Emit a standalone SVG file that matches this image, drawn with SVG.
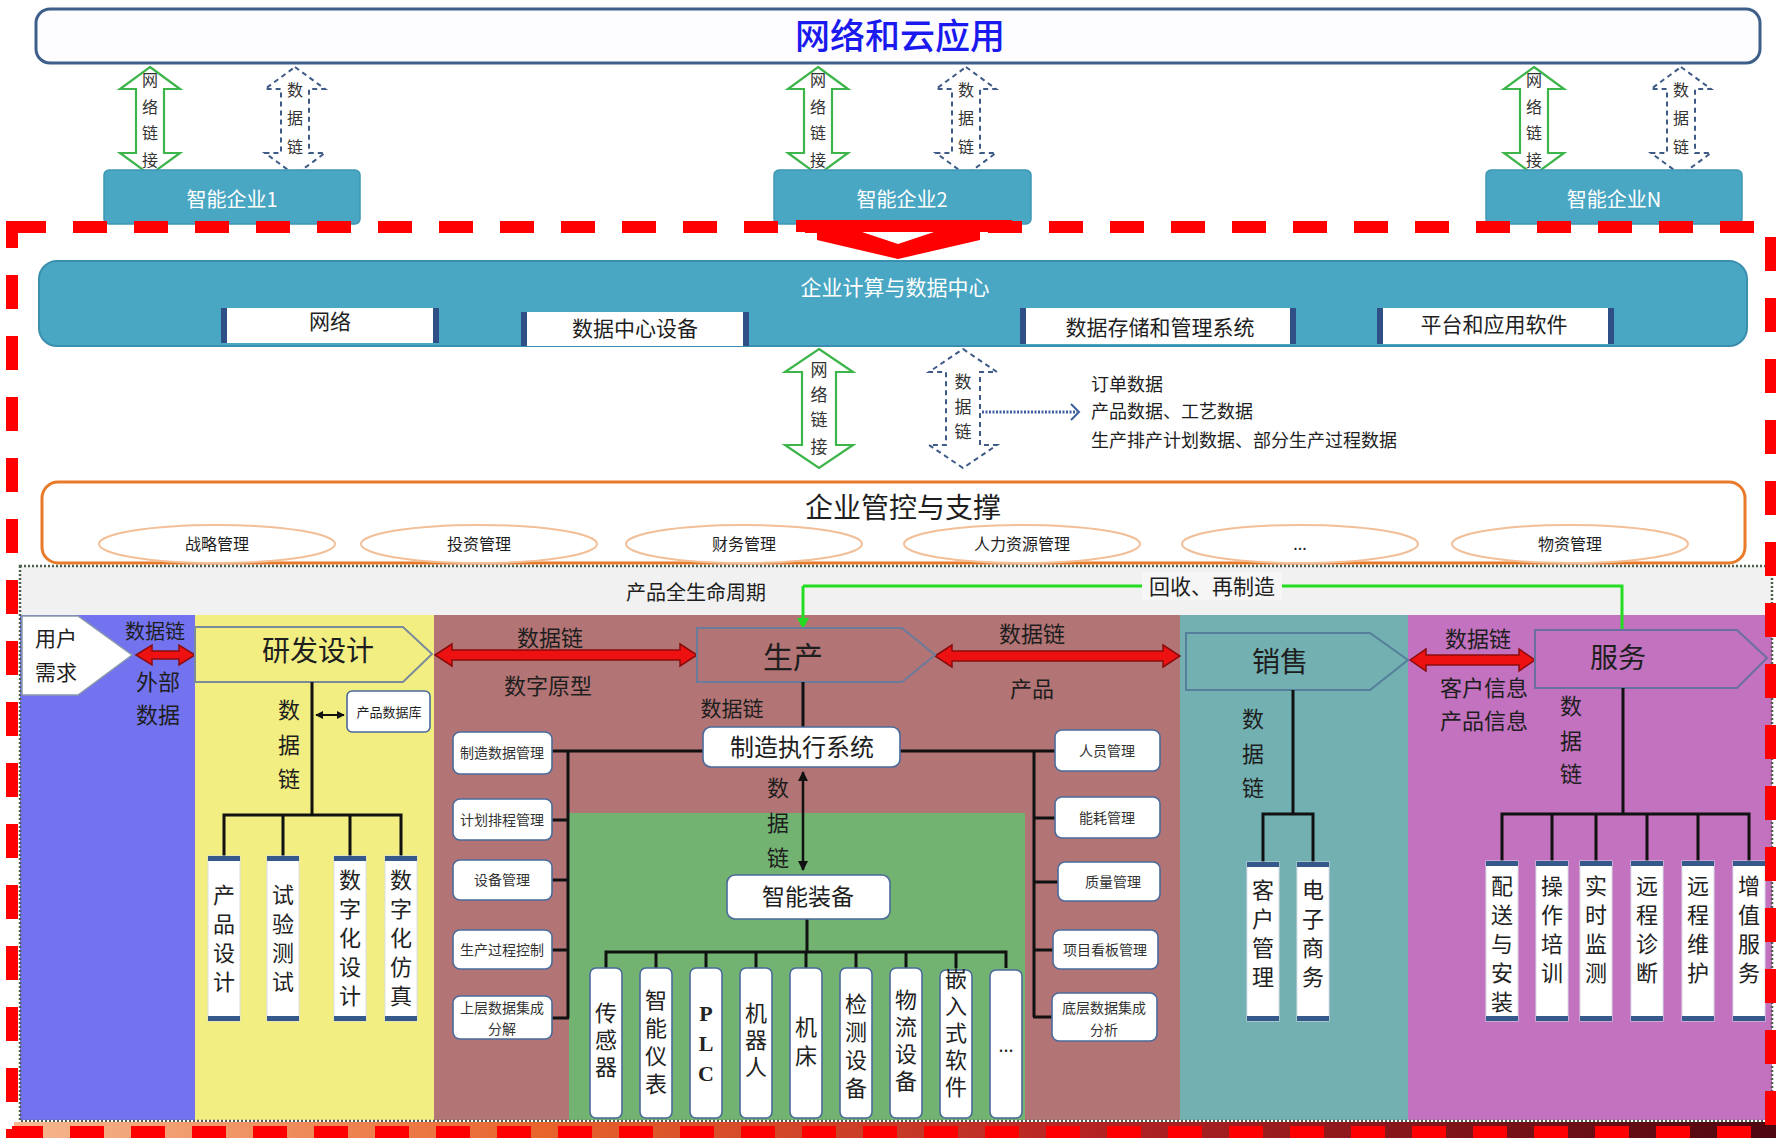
<svg xmlns="http://www.w3.org/2000/svg" width="1776" height="1138" viewBox="0 0 1776 1138">
<defs>
<style>
text{font-family:"Noto Sans CJK SC","Noto Sans",sans-serif;fill:#1e1e1e;text-anchor:middle}
.wt{fill:#fff}
.ent{fill:#4aa7c3;stroke:#3e97b5;stroke-width:1.5}
.garrow{fill:#fff;stroke:#3db54a;stroke-width:2.2}
.darrow{fill:#fff;stroke:#3e5a86;stroke-width:2;stroke-dasharray:5 4}
.vt{font-size:16px;fill:#333}
.sub{fill:#fff}
.side{fill:#2f4f86}
.ell{fill:#fff;stroke:#f2bf98;stroke-width:2}
.ln{stroke:#111;stroke-width:3;fill:none}
.box{fill:#fff;stroke:#4b6a9c;stroke-width:1.6}
.scroll{fill:#fff;stroke:#d8dde6;stroke-width:1}
.bar{fill:#36598c}
.red{fill:#ee1111;stroke:#8a0c0c;stroke-width:1.5}
.lbl{font-size:22px}
.v{writing-mode:vertical-rl;text-orientation:upright;font-size:22px;fill:#222;letter-spacing:7px}
.v5{letter-spacing:5px}
.v6{letter-spacing:6px}
.sm{font-size:14px;fill:#333}
.chev{stroke-width:2}
</style>
<path id="arTop" d="M0,0 L30,22 L14,22 L14,86 L30,86 L0,108 L-30,86 L-14,86 L-14,22 L-30,22 Z"/>
<path id="arMid" d="M0,0 L34,23 L17,23 L17,96 L34,96 L0,119 L-34,96 L-17,96 L-17,23 L-34,23 Z"/>
<marker id="ah" viewBox="0 0 10 10" refX="9" refY="5" markerWidth="4" markerHeight="4" orient="auto-start-reverse"><path d="M0,0 L10,5 L0,10 z" fill="#111"/></marker>
<linearGradient id="strip" x1="0" x2="1" y1="0" y2="0">
<stop offset="0" stop-color="#f6b890"/><stop offset="0.3" stop-color="#e8642c"/><stop offset="0.6" stop-color="#b82424"/><stop offset="1" stop-color="#4e0610"/>
</linearGradient>
</defs>

<!-- Cloud -->
<g id="cloud">
<rect x="36" y="9" width="1724" height="54" rx="14" fill="#fdfdff" stroke="#3d5f8a" stroke-width="3"/>
<text x="900" y="49" style="font-size:35px;fill:#1a1aee;font-weight:500">网络和云应用</text>
</g>

<!-- Connectors -->
<g id="connectors">
<use href="#arTop" class="garrow" transform="translate(150,67)"/>
<use href="#arTop" class="darrow" transform="translate(295,67)"/>
<use href="#arTop" class="garrow" transform="translate(818,67)"/>
<use href="#arTop" class="darrow" transform="translate(966,67)"/>
<use href="#arTop" class="garrow" transform="translate(1534,67)"/>
<use href="#arTop" class="darrow" transform="translate(1681,67)"/>
<text class="vt"><tspan x="150" y="86">网</tspan><tspan x="150" y="113">络</tspan><tspan x="150" y="139">链</tspan><tspan x="150" y="166">接</tspan></text>
<text class="vt"><tspan x="295" y="96">数</tspan><tspan x="295" y="124">据</tspan><tspan x="295" y="153">链</tspan></text>
<text class="vt"><tspan x="818" y="86">网</tspan><tspan x="818" y="113">络</tspan><tspan x="818" y="139">链</tspan><tspan x="818" y="166">接</tspan></text>
<text class="vt"><tspan x="966" y="96">数</tspan><tspan x="966" y="124">据</tspan><tspan x="966" y="153">链</tspan></text>
<text class="vt"><tspan x="1534" y="86">网</tspan><tspan x="1534" y="113">络</tspan><tspan x="1534" y="139">链</tspan><tspan x="1534" y="166">接</tspan></text>
<text class="vt"><tspan x="1681" y="96">数</tspan><tspan x="1681" y="124">据</tspan><tspan x="1681" y="153">链</tspan></text>
<use href="#arMid" class="garrow" transform="translate(819,349)"/>
<use href="#arMid" class="darrow" transform="translate(963,349)"/>
<text class="vt" style="font-size:17px"><tspan x="819" y="376">网</tspan><tspan x="819" y="401">络</tspan><tspan x="819" y="426">链</tspan><tspan x="819" y="453">接</tspan></text>
<text class="vt" style="font-size:17px"><tspan x="963" y="388">数</tspan><tspan x="963" y="413">据</tspan><tspan x="963" y="438">链</tspan></text>
<line x1="982" y1="412" x2="1077" y2="412" stroke="#3d5fa0" stroke-width="3" stroke-dasharray="2 1.5"/>
<polyline points="1071,404 1079,412 1071,420" fill="none" stroke="#3d5fa0" stroke-width="2"/>
</g>

<!-- Enterprises -->
<g id="ent1"><rect class="ent" x="104" y="170" width="256" height="54" rx="5"/><text x="232" y="207" class="wt" style="font-size:20px">智能企业1</text></g>
<g id="ent2"><rect class="ent" x="774" y="170" width="257" height="54" rx="5"/><text x="902" y="207" class="wt" style="font-size:20px">智能企业2</text></g>
<g id="entN"><rect class="ent" x="1486" y="170" width="256" height="54" rx="5"/><text x="1614" y="207" class="wt" style="font-size:20px">智能企业N</text></g>

<!-- Compute & data center -->
<g id="datacenter">
<rect x="39" y="261" width="1708" height="85" rx="18" fill="#4aa7c3" stroke="#3b8fae" stroke-width="2"/>
<text x="895" y="295" class="wt" style="font-size:21px">企业计算与数据中心</text>
<rect class="sub" x="221" y="308" width="218" height="35"/><rect class="side" x="221" y="308" width="6" height="35"/><rect class="side" x="433" y="308" width="6" height="35"/>
<text x="330" y="329" style="font-size:21px">网络</text>
<rect class="sub" x="521" y="312" width="228" height="34"/><rect class="side" x="521" y="312" width="6" height="34"/><rect class="side" x="743" y="312" width="6" height="34"/>
<text x="635" y="336" style="font-size:21px">数据中心设备</text>
<rect class="sub" x="1020" y="308" width="276" height="36"/><rect class="side" x="1020" y="308" width="6" height="36"/><rect class="side" x="1290" y="308" width="6" height="36"/>
<text x="1160" y="335" style="font-size:21px">数据存储和管理系统</text>
<rect class="sub" x="1377" y="308" width="237" height="36"/><rect class="side" x="1377" y="308" width="6" height="36"/><rect class="side" x="1608" y="308" width="6" height="36"/>
<text x="1494" y="332" style="font-size:21px">平台和应用软件</text>
</g>

<g id="datatext">
<text x="1091" y="391" style="text-anchor:start;font-size:18px">订单数据</text>
<text x="1091" y="418" style="text-anchor:start;font-size:18px">产品数据、工艺数据</text>
<text x="1091" y="447" style="text-anchor:start;font-size:18px">生产排产计划数据、部分生产过程数据</text>
</g>

<!-- Management -->
<g id="management">
<rect x="42" y="482" width="1703" height="81" rx="16" fill="#fff" stroke="#e87a2a" stroke-width="3"/>
<text x="903" y="518" style="font-size:28px">企业管控与支撑</text>
<ellipse class="ell" cx="217" cy="544" rx="118" ry="19"/><text x="217" y="550" style="font-size:16px">战略管理</text>
<ellipse class="ell" cx="479" cy="544" rx="118" ry="19"/><text x="479" y="550" style="font-size:16px">投资管理</text>
<ellipse class="ell" cx="744" cy="544" rx="118" ry="19"/><text x="744" y="550" style="font-size:16px">财务管理</text>
<ellipse class="ell" cx="1022" cy="544" rx="118" ry="19"/><text x="1022" y="550" style="font-size:16px">人力资源管理</text>
<ellipse class="ell" cx="1300" cy="544" rx="118" ry="19"/><text x="1300" y="550" style="font-size:16px">...</text>
<ellipse class="ell" cx="1570" cy="544" rx="118" ry="19"/><text x="1570" y="550" style="font-size:16px">物资管理</text>
</g>

<!-- Lifecycle panel -->
<g id="lifecycle">
<rect x="20" y="566" width="1752" height="49" fill="#f1f1f1"/>
<rect x="20" y="615" width="175" height="505" fill="#7373f0"/>
<rect x="195" y="615" width="239" height="505" fill="#f2ee82"/>
<rect x="434" y="615" width="746" height="505" fill="#b27474"/>
<rect x="569" y="813" width="456" height="307" fill="#72b372"/>
<rect x="1180" y="615" width="228" height="505" fill="#72b0b2"/>
<rect x="1408" y="615" width="364" height="505" fill="#c272be"/>
<rect x="20" y="566" width="1752" height="555" fill="none" stroke="#4f5f4f" stroke-width="2.5" stroke-dasharray="2 2"/>
<text x="696" y="600" style="font-size:20px">产品全生命周期</text>
</g>

<g id="recycle">
<polyline points="803,586 1622,586 1622,630" fill="none" stroke="#22dd22" stroke-width="3"/>
<line x1="803" y1="586" x2="803" y2="620" stroke="#22dd22" stroke-width="3"/>
<polygon points="797,618 809,618 803,629" fill="#22dd22"/>
<rect x="1142" y="572" width="140" height="28" fill="#f6f6f6"/>
<text x="1212" y="594" style="font-size:21px">回收、再制造</text>
</g>

<!-- User demand -->
<g id="user">
<polygon points="22,616 78,616 132,655 78,695 22,695" fill="#fff" stroke="#8899aa" stroke-width="1.5"/>
<text x="56" y="646" style="font-size:21px">用户</text>
<text x="56" y="680" style="font-size:21px">需求</text>
</g>

<!-- Red arrows -->
<g id="redarrows">
<polygon class="red" points="136,655 152,645 152,651 179,651 179,645 195,655 179,665 179,659 152,659 152,665"/>
<polygon class="red" points="435,655 452,644 452,650 680,650 680,644 697,655 680,666 680,660 452,660 452,666"/>
<polygon class="red" points="935,656 952,645 952,651 1163,651 1163,645 1180,656 1163,667 1163,661 952,661 952,667"/>
<polygon class="red" points="1410,660 1426,649 1426,655 1519,655 1519,649 1535,660 1519,671 1519,665 1426,665 1426,671"/>
<text x="155" y="639" class="lbl" style="font-size:20px">数据链</text>
<text x="158" y="690" class="lbl">外部</text>
<text x="158" y="723" class="lbl">数据</text>
<text x="550" y="646" class="lbl">数据链</text>
<text x="548" y="694" class="lbl">数字原型</text>
<text x="1032" y="642" class="lbl">数据链</text>
<text x="1032" y="697" class="lbl">产品</text>
<text x="1478" y="647" class="lbl">数据链</text>
<text x="1484" y="696" class="lbl">客户信息</text>
<text x="1484" y="729" class="lbl">产品信息</text>
</g>

<!-- R&D -->
<g id="rnd">
<polygon class="chev" points="195,627 403,627 432,654 403,682 195,682" fill="#f2ee82" stroke="#7b8a9c"/>
<text x="318" y="661" style="font-size:28px">研发设计</text>
<rect class="box" x="347" y="691" width="83" height="41" rx="5"/>
<text x="389" y="717" style="font-size:13px">产品数据库</text>
</g>
<g id="rnd-lines">
<polyline class="ln" points="312,682 312,815"/>
<polyline class="ln" points="224,856 224,815 401,815 401,856"/>
<line class="ln" x1="283" y1="815" x2="283" y2="856"/>
<line class="ln" x1="350" y1="815" x2="350" y2="856"/>
<line x1="316" y1="715" x2="344" y2="715" stroke="#111" stroke-width="2" marker-start="url(#ah)" marker-end="url(#ah)"/>
<text class="lbl"><tspan x="289" y="718">数</tspan><tspan x="289" y="753">据</tspan><tspan x="289" y="787">链</tspan></text>
</g>
<g id="rnd-items">
<rect class="scroll" x="208" y="856" width="32" height="165"/><rect class="bar" x="208" y="856" width="32" height="5"/><rect class="bar" x="208" y="1016" width="32" height="5"/>
<text class="v" x="224" y="942">产品设计</text>
<rect class="scroll" x="267" y="856" width="32" height="165"/><rect class="bar" x="267" y="856" width="32" height="5"/><rect class="bar" x="267" y="1016" width="32" height="5"/>
<text class="v" x="283" y="942">试验测试</text>
<rect class="scroll" x="334" y="856" width="32" height="165"/><rect class="bar" x="334" y="856" width="32" height="5"/><rect class="bar" x="334" y="1016" width="32" height="5"/>
<text class="v" x="350" y="941">数字化设计</text>
<rect class="scroll" x="385" y="856" width="32" height="165"/><rect class="bar" x="385" y="856" width="32" height="5"/><rect class="bar" x="385" y="1016" width="32" height="5"/>
<text class="v" x="401" y="941">数字化仿真</text>
</g>

<!-- Production -->
<g id="production">
<polygon class="chev" points="697,628 902,628 935,655 902,682 697,682" fill="#b27474" stroke="#6b7b9c"/>
<text x="793" y="668" style="font-size:30px">生产</text>
<text x="732" y="716" style="font-size:21px">数据链</text>
</g>
<g id="prod-lines">
<line class="ln" x1="803" y1="682" x2="803" y2="727"/>
<line class="ln" x1="552" y1="751" x2="703" y2="751"/>
<line class="ln" x1="568" y1="751" x2="568" y2="1018"/>
<line class="ln" x1="552" y1="820" x2="568" y2="820"/>
<line class="ln" x1="552" y1="880" x2="568" y2="880"/>
<line class="ln" x1="552" y1="950" x2="568" y2="950"/>
<line class="ln" x1="552" y1="1018" x2="569" y2="1018"/>
<line class="ln" x1="900" y1="751" x2="1055" y2="751"/>
<line class="ln" x1="1034" y1="751" x2="1034" y2="1017"/>
<line class="ln" x1="1034" y1="818" x2="1055" y2="818"/>
<line class="ln" x1="1034" y1="882" x2="1058" y2="882"/>
<line class="ln" x1="1034" y1="950" x2="1053" y2="950"/>
<line class="ln" x1="1033" y1="1017" x2="1052" y2="1017"/>
<line x1="803" y1="772" x2="803" y2="870" stroke="#111" stroke-width="2.5" marker-start="url(#ah)" marker-end="url(#ah)"/>
<text class="lbl"><tspan x="778" y="796">数</tspan><tspan x="778" y="831">据</tspan><tspan x="778" y="866">链</tspan></text>
<line class="ln" x1="807" y1="919" x2="807" y2="952"/>
<polyline class="ln" points="606,968 606,952 1006,952 1006,968"/>
<line class="ln" x1="656" y1="952" x2="656" y2="968"/>
<line class="ln" x1="706" y1="952" x2="706" y2="968"/>
<line class="ln" x1="756" y1="952" x2="756" y2="968"/>
<line class="ln" x1="806" y1="952" x2="806" y2="968"/>
<line class="ln" x1="856" y1="952" x2="856" y2="968"/>
<line class="ln" x1="906" y1="952" x2="906" y2="968"/>
<line class="ln" x1="956" y1="952" x2="956" y2="968"/>
</g>
<g id="mes"><rect class="box" x="703" y="727" width="197" height="40" rx="8"/><text x="802" y="756" style="font-size:24px">制造执行系统</text></g>
<g id="equip"><rect class="box" x="727" y="875" width="163" height="44" rx="8"/><text x="808" y="905" style="font-size:23px">智能装备</text></g>
<g id="prod-left">
<rect class="box" x="453" y="732" width="99" height="42" rx="7"/><text x="502" y="758" class="sm">制造数据管理</text>
<rect class="box" x="453" y="799" width="99" height="41" rx="7"/><text x="502" y="825" class="sm">计划排程管理</text>
<rect class="box" x="453" y="860" width="99" height="40" rx="7"/><text x="502" y="885" class="sm">设备管理</text>
<rect class="box" x="453" y="930" width="99" height="39" rx="7"/><text x="502" y="955" class="sm">生产过程控制</text>
<rect class="box" x="453" y="996" width="99" height="43" rx="7"/><text x="502" y="1013" class="sm">上层数据集成</text><text x="502" y="1034" class="sm">分解</text>
</g>
<g id="prod-right">
<rect class="box" x="1055" y="730" width="105" height="41" rx="7"/><text x="1107" y="756" class="sm">人员管理</text>
<rect class="box" x="1055" y="797" width="105" height="41" rx="7"/><text x="1107" y="823" class="sm">能耗管理</text>
<rect class="box" x="1058" y="862" width="102" height="39" rx="7"/><text x="1113" y="887" class="sm">质量管理</text>
<rect class="box" x="1053" y="930" width="105" height="39" rx="7"/><text x="1105" y="955" class="sm">项目看板管理</text>
<rect class="box" x="1052" y="993" width="105" height="48" rx="7"/><text x="1104" y="1013" class="sm">底层数据集成</text><text x="1104" y="1035" class="sm">分析</text>
</g>
<g id="equip-items">
<rect class="box" x="590" y="968" width="32" height="150" rx="6"/><text class="v v5" x="606" y="1042">传感器</text>
<rect class="box" x="640" y="968" width="32" height="150" rx="6"/><text class="v v6" x="656" y="1045">智能仪表</text>
<rect class="box" x="690" y="968" width="32" height="150" rx="6"/><text class="v v5" x="706" y="1046" style="font-family:'Liberation Serif',serif;font-weight:bold">PLC</text>
<rect class="box" x="740" y="968" width="32" height="150" rx="6"/><text class="v v5" x="756" y="1042">机器人</text>
<rect class="box" x="790" y="968" width="32" height="150" rx="6"/><text class="v" x="806" y="1045">机床</text>
<rect class="box" x="840" y="968" width="32" height="150" rx="6"/><text class="v v6" x="856" y="1049">检测设备</text>
<rect class="box" x="890" y="968" width="32" height="150" rx="6"/><text class="v v5" x="906" y="1043">物流设备</text>
<rect class="box" x="940" y="970" width="32" height="148" rx="6"/><text class="v v5" x="956" y="1035">嵌入式软件</text>
<rect class="box" x="990" y="970" width="32" height="148" rx="6"/><text x="1006" y="1052" style="font-size:18px">...</text>
</g>

<!-- Sales -->
<g id="sales">
<polygon class="chev" points="1186,633 1370,633 1408,660 1370,690 1186,690" fill="#72b0b2" stroke="#557f9a"/>
<text x="1280" y="672" style="font-size:28px">销售</text>
</g>
<g id="sales-lines">
<line class="ln" x1="1293" y1="690" x2="1293" y2="814"/>
<polyline class="ln" points="1263,862 1263,814 1313,814 1313,862"/>
<text class="lbl"><tspan x="1253" y="727">数</tspan><tspan x="1253" y="762">据</tspan><tspan x="1253" y="796">链</tspan></text>
</g>
<g id="sales-items">
<rect class="scroll" x="1247" y="862" width="32" height="159"/><rect class="bar" x="1247" y="862" width="32" height="5"/><rect class="bar" x="1247" y="1016" width="32" height="5"/>
<text class="v" x="1263" y="937">客户管理</text>
<rect class="scroll" x="1297" y="862" width="32" height="159"/><rect class="bar" x="1297" y="862" width="32" height="5"/><rect class="bar" x="1297" y="1016" width="32" height="5"/>
<text class="v" x="1313" y="937">电子商务</text>
</g>

<!-- Service -->
<g id="service">
<polygon class="chev" points="1535,630 1737,630 1767,658 1737,688 1535,688" fill="#c272be" stroke="#6b6fa0"/>
<text x="1618" y="668" style="font-size:28px">服务</text>
</g>
<g id="service-lines">
<line class="ln" x1="1623" y1="688" x2="1623" y2="814"/>
<polyline class="ln" points="1502,861 1502,814 1749,814 1749,861"/>
<line class="ln" x1="1552" y1="814" x2="1552" y2="861"/>
<line class="ln" x1="1596" y1="814" x2="1596" y2="861"/>
<line class="ln" x1="1647" y1="814" x2="1647" y2="861"/>
<line class="ln" x1="1698" y1="814" x2="1698" y2="861"/>
<text class="lbl"><tspan x="1571" y="714">数</tspan><tspan x="1571" y="749">据</tspan><tspan x="1571" y="782">链</tspan></text>
</g>
<g id="service-items">
<rect class="scroll" x="1486" y="861" width="32" height="160"/><rect class="bar" x="1486" y="861" width="32" height="5"/><rect class="bar" x="1486" y="1016" width="32" height="5"/>
<text class="v" x="1502" y="947">配送与安装</text>
<rect class="scroll" x="1536" y="861" width="32" height="160"/><rect class="bar" x="1536" y="861" width="32" height="5"/><rect class="bar" x="1536" y="1016" width="32" height="5"/>
<text class="v" x="1552" y="933">操作培训</text>
<rect class="scroll" x="1580" y="861" width="32" height="160"/><rect class="bar" x="1580" y="861" width="32" height="5"/><rect class="bar" x="1580" y="1016" width="32" height="5"/>
<text class="v" x="1596" y="933">实时监测</text>
<rect class="scroll" x="1631" y="861" width="32" height="160"/><rect class="bar" x="1631" y="861" width="32" height="5"/><rect class="bar" x="1631" y="1016" width="32" height="5"/>
<text class="v" x="1647" y="933">远程诊断</text>
<rect class="scroll" x="1682" y="861" width="32" height="160"/><rect class="bar" x="1682" y="861" width="32" height="5"/><rect class="bar" x="1682" y="1016" width="32" height="5"/>
<text class="v" x="1698" y="933">远程维护</text>
<rect class="scroll" x="1733" y="861" width="32" height="160"/><rect class="bar" x="1733" y="861" width="32" height="5"/><rect class="bar" x="1733" y="1016" width="32" height="5"/>
<text class="v" x="1749" y="933">增值服务</text>
</g>

<!-- Enterprise boundary -->
<g id="boundary">
<rect x="14" y="1122" width="1762" height="16" fill="url(#strip)"/>
<rect x="12" y="227" width="1759" height="905" fill="none" stroke="#ff0000" stroke-width="12" stroke-dasharray="34 27"/>
<polygon points="796,220 1012,220 1012,232 980,232 980,240 898,259 817,240 817,232 796,232" fill="#ff0000"/>
<polygon points="862,232 934,232 898,244" fill="#fff"/>
</g>
</svg>
